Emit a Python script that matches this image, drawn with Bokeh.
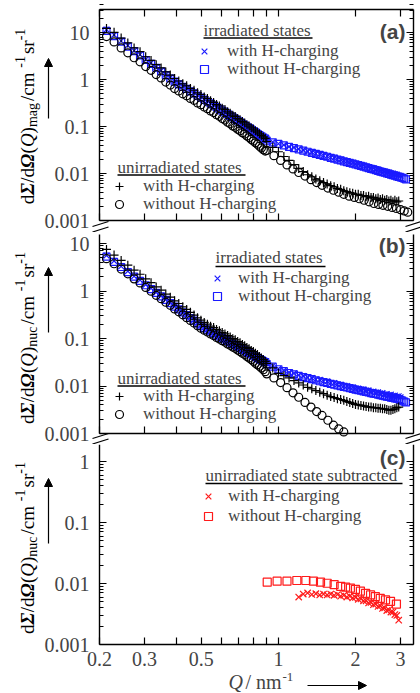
import math
from bokeh.plotting import figure
from bokeh.models import (LogAxis, FixedTicker, Label, Arrow, NormalHead, Legend,
                          LegendItem, Range1d)
from bokeh.layouts import column
from bokeh.embed import file_html
from bokeh.resources import INLINE

# ---------------- data ----------------
q_lo = [0.213, 0.228, 0.243, 0.258, 0.273, 0.288, 0.303, 0.318, 0.333, 0.348,
        0.363, 0.378, 0.393, 0.408, 0.423, 0.438, 0.453, 0.468, 0.483, 0.498,
        0.513, 0.528, 0.543, 0.558, 0.573, 0.588, 0.603, 0.618, 0.633, 0.648,
        0.663, 0.678, 0.693, 0.708, 0.723, 0.738, 0.753, 0.768, 0.783, 0.798,
        0.813, 0.828, 0.843, 0.858, 0.873, 0.888]
q_hi = [0.90, 0.95, 1.00, 1.05, 1.10, 1.15, 1.20, 1.25, 1.30, 1.35, 1.40, 1.45,
        1.50, 1.55, 1.60, 1.65, 1.70, 1.75, 1.80, 1.85, 1.90, 1.95, 2.00, 2.05,
        2.10, 2.15, 2.20, 2.25, 2.30, 2.35, 2.40, 2.45, 2.50, 2.55, 2.60, 2.65,
        2.70, 2.75, 2.80, 2.85, 2.90, 2.95, 3.00]
q_hi_sq = q_hi + [3.05, 3.10, 3.15]
q_hi_plus = q_hi[:-1]
q_hi_circ = [0.90, 0.96, 1.02, 1.08, 1.14, 1.20, 1.27, 1.34, 1.41, 1.48, 1.56,
             1.64, 1.72, 1.80, 1.89, 1.98, 2.07, 2.16, 2.26, 2.36, 2.46, 2.56,
             2.67, 2.78, 2.89, 3.00, 3.10, 3.20]

# panel (a): magnetic
a_irr_h = [11.5, 8.9, 6.6, 5.3, 4.1, 3.4, 2.68, 2.25, 1.82, 1.55, 1.27, 1.10, 0.92, 0.83,
           0.72, 0.655, 0.575, 0.525, 0.465, 0.428, 0.38, 0.353, 0.316, 0.293, 0.264,
           0.247, 0.222, 0.207, 0.186, 0.174, 0.158, 0.148, 0.135, 0.127, 0.116, 0.109,
           0.100, 0.094, 0.087, 0.082, 0.076, 0.072, 0.067, 0.063, 0.059, 0.056]
a_irr_h_hi = [0.051, 0.047, 0.043, 0.0405, 0.0372, 0.0358, 0.0331, 0.0318, 0.0295, 0.0285,
              0.0265, 0.0259, 0.0240, 0.0236, 0.0220, 0.0216, 0.0201, 0.0198, 0.0186, 0.0183,
              0.0171, 0.0170, 0.0160, 0.0158, 0.0149, 0.0148, 0.0139, 0.0138, 0.0131, 0.0129,
              0.0123, 0.0121, 0.0116, 0.0114, 0.0110, 0.0107, 0.0105, 0.0101, 0.0100, 0.0096,
              0.0095, 0.0091, 0.0090]
a_irr_n = [10.8, 8.4, 6.4, 5.0, 4.0, 3.25, 2.6, 2.15, 1.78, 1.48, 1.24, 1.05, 0.9, 0.79,
           0.70, 0.63, 0.56, 0.505, 0.455, 0.412, 0.372, 0.34, 0.31, 0.283, 0.259, 0.238,
           0.218, 0.2, 0.184, 0.169, 0.156, 0.144, 0.133, 0.123, 0.114, 0.106, 0.098, 0.092,
           0.086, 0.080, 0.075, 0.070, 0.066, 0.062, 0.058, 0.055]
a_irr_n_hi = [0.050, 0.046, 0.0425, 0.0395, 0.0368, 0.0345, 0.0325, 0.0307, 0.0290, 0.0275,
              0.0262, 0.0249, 0.0237, 0.0227, 0.0216, 0.0207, 0.0198, 0.0190, 0.0182, 0.0175,
              0.0168, 0.0162, 0.0156, 0.0150, 0.0145, 0.0140, 0.0135, 0.0130, 0.0126, 0.0122,
              0.0118, 0.0114, 0.0110, 0.0107, 0.0104, 0.0101, 0.0098, 0.0095, 0.0092, 0.0090,
              0.0087, 0.0085, 0.0083, 0.0081, 0.0078, 0.0075]
a_un_h = [12.2, 10.1, 7.6, 6.0, 4.7, 3.9, 3.05, 2.55, 2.07, 1.76, 1.45, 1.24, 1.05, 0.93,
          0.81, 0.735, 0.645, 0.59, 0.52, 0.48, 0.425, 0.393, 0.352, 0.326, 0.293, 0.273,
          0.246, 0.229, 0.206, 0.192, 0.174, 0.163, 0.148, 0.139, 0.127, 0.119, 0.109, 0.102,
          0.094, 0.088, 0.081, 0.076, 0.070, 0.065, 0.060, 0.056]
a_un_h_hi = [0.048, 0.036, 0.029, 0.023, 0.019, 0.0155, 0.0128, 0.011, 0.0094, 0.0085,
             0.0076, 0.0070, 0.0064, 0.0060, 0.0055, 0.0052, 0.0048, 0.0046, 0.0043, 0.0041,
             0.0039, 0.0038, 0.0036, 0.0036, 0.0034, 0.0034, 0.0032, 0.0033, 0.0031, 0.0031,
             0.0029, 0.0030, 0.0028, 0.0029, 0.0027, 0.0028, 0.0026, 0.0027, 0.0025, 0.0027,
             0.0025, 0.0026]
a_un_n = [8.2, 6.3, 4.7, 3.7, 2.9, 2.38, 1.88, 1.57, 1.27, 1.08, 0.88, 0.76, 0.64, 0.57,
          0.495, 0.45, 0.395, 0.36, 0.318, 0.292, 0.26, 0.24, 0.214, 0.198, 0.178, 0.165,
          0.148, 0.137, 0.123, 0.114, 0.103, 0.096, 0.087, 0.081, 0.074, 0.069, 0.063, 0.058,
          0.053, 0.049, 0.045, 0.042, 0.038, 0.035, 0.032, 0.030]
a_un_n_hi = [0.031, 0.024, 0.019, 0.0152, 0.0125, 0.0105, 0.0088, 0.0074, 0.0064, 0.0056,
             0.0049, 0.0044, 0.0040, 0.0036, 0.0033, 0.0031, 0.0029, 0.0027, 0.0025, 0.0023,
             0.0022, 0.0021, 0.0020, 0.0019, 0.0018, 0.0017, 0.0016, 0.0015]

# panel (b): nuclear
b_irr_h = [5.6, 4.3, 3.3, 2.62, 2.05, 1.70, 1.36, 1.14, 0.93, 0.79, 0.66, 0.57, 0.48, 0.42,
           0.36, 0.315, 0.273, 0.242, 0.211, 0.188, 0.170, 0.157, 0.143, 0.133, 0.121, 0.114,
           0.104, 0.098, 0.090, 0.085, 0.078, 0.074, 0.068, 0.065, 0.060, 0.057, 0.053, 0.051,
           0.047, 0.045, 0.042, 0.0405, 0.038, 0.0365, 0.034, 0.033]
b_irr_h_hi = [0.030, 0.0265, 0.0232, 0.0214, 0.0194, 0.0185, 0.0169, 0.0163, 0.0151, 0.0148,
              0.0137, 0.0135, 0.0126, 0.0125, 0.0116, 0.0116, 0.0108, 0.0107, 0.0100, 0.0100,
              0.0094, 0.0094, 0.0089, 0.0089, 0.0084, 0.0085, 0.0080, 0.0081, 0.0076, 0.0077,
              0.0073, 0.0074, 0.0070, 0.0071, 0.0067, 0.0068, 0.0065, 0.0066, 0.0062, 0.0063,
              0.0060, 0.0061, 0.0058]
b_irr_n = [5.3, 4.1, 3.2, 2.5, 2.0, 1.63, 1.32, 1.10, 0.91, 0.77, 0.65, 0.555, 0.47, 0.41,
           0.355, 0.31, 0.27, 0.238, 0.209, 0.186, 0.168, 0.154, 0.141, 0.130, 0.120, 0.111,
           0.103, 0.096, 0.089, 0.083, 0.077, 0.072, 0.067, 0.063, 0.059, 0.056, 0.052, 0.049,
           0.046, 0.044, 0.041, 0.039, 0.037, 0.035, 0.033, 0.032]
b_irr_n_hi = [0.029, 0.0255, 0.0225, 0.0205, 0.0188, 0.0175, 0.0163, 0.0154, 0.0146, 0.0139,
              0.0132, 0.0126, 0.0121, 0.0116, 0.0111, 0.0107, 0.0103, 0.0099, 0.0096, 0.0093,
              0.0090, 0.0087, 0.0084, 0.0082, 0.0080, 0.0077, 0.0075, 0.0073, 0.0071, 0.0069,
              0.0068, 0.0066, 0.0064, 0.0063, 0.0061, 0.0060, 0.0059, 0.0057, 0.0056, 0.0055,
              0.0054, 0.0053, 0.0051, 0.0049, 0.0047, 0.0045]
b_un_h = [7.5, 5.7, 4.4, 3.5, 2.75, 2.25, 1.80, 1.50, 1.22, 1.04, 0.86, 0.74, 0.62, 0.545,
          0.465, 0.41, 0.355, 0.312, 0.272, 0.243, 0.218, 0.200, 0.182, 0.170, 0.155, 0.145,
          0.133, 0.125, 0.115, 0.108, 0.099, 0.094, 0.086, 0.081, 0.075, 0.070, 0.065, 0.061,
          0.056, 0.053, 0.049, 0.046, 0.042, 0.039, 0.036, 0.033]
b_un_h_hi = [0.030, 0.024, 0.0185, 0.0165, 0.0148, 0.0130, 0.0116, 0.0105, 0.0094, 0.0087,
             0.0080, 0.0074, 0.0069, 0.0064, 0.0060, 0.0057, 0.0054, 0.0052, 0.0050, 0.0047,
             0.0045, 0.0043, 0.0041, 0.0040, 0.0039, 0.0038, 0.0037, 0.0036, 0.0036, 0.0035,
             0.0035, 0.0034, 0.0034, 0.0033, 0.0033, 0.0032, 0.0031, 0.0031, 0.0032, 0.0033,
             0.0035, 0.0036]
b_un_n = [4.8, 3.75, 2.9, 2.3, 1.8, 1.48, 1.19, 0.99, 0.81, 0.69, 0.58, 0.50, 0.42, 0.365,
          0.315, 0.275, 0.24, 0.212, 0.185, 0.165, 0.150, 0.137, 0.125, 0.115, 0.105, 0.098,
          0.090, 0.084, 0.077, 0.072, 0.066, 0.062, 0.057, 0.053, 0.049, 0.046, 0.042, 0.039,
          0.036, 0.033, 0.030, 0.028, 0.026, 0.024, 0.022, 0.020]
b_un_n_hi = [0.018, 0.0148, 0.0118, 0.0092, 0.0072, 0.0058, 0.0045, 0.0036, 0.0029, 0.0024,
             0.0019, 0.0015, 0.00125, 0.00108]

# panel (c): irradiated minus unirradiated (nuclear)
c_n_q = [0.904, 0.988, 1.08, 1.18, 1.28, 1.37, 1.46, 1.55, 1.65, 1.75, 1.83, 1.91, 2.00,
         2.09, 2.19, 2.29, 2.39, 2.50, 2.62, 2.74, 2.89]
c_n_v = [0.0105, 0.0109, 0.0109, 0.0112, 0.0112, 0.0109, 0.0105, 0.0101, 0.0096, 0.0090,
         0.0087, 0.0084, 0.0080, 0.0075, 0.0069, 0.0065, 0.0061, 0.0057, 0.0054, 0.0051, 0.0046]
c_h_q = [1.20, 1.25, 1.30, 1.35, 1.40, 1.45, 1.50, 1.55, 1.60, 1.65, 1.70, 1.75, 1.80, 1.85,
         1.90, 1.95, 2.00, 2.05, 2.10, 2.15, 2.20, 2.25, 2.30, 2.35, 2.40, 2.45, 2.50, 2.55,
         2.60, 2.65, 2.70, 2.75, 2.80, 2.85, 2.90, 2.95]
c_h_v = [0.0060, 0.0067, 0.0070, 0.0066, 0.0068, 0.0065, 0.0067, 0.0065, 0.0067, 0.0064,
         0.0066, 0.0062, 0.0064, 0.0060, 0.0062, 0.0058, 0.0059, 0.0055, 0.0056, 0.0052,
         0.0052, 0.0048, 0.0049, 0.0045, 0.0046, 0.0042, 0.0043, 0.0039, 0.0040, 0.0036,
         0.0037, 0.0034, 0.0034, 0.0031, 0.0030, 0.0025]

x_ticks = [0.2, 0.3, 0.4, 0.5, 0.6, 0.7, 0.8, 0.9, 1, 2, 3]
x_tick_labels = {0.2: "0.2", 0.3: "0.3", 0.4: "", 0.5: "0.5", 0.6: "", 0.7: "", 0.8: "",
                 0.9: "", 1: "1", 2: "2", 3: "3"}
y_ticks = [0.001, 0.01, 0.1, 1, 10]
y_tick_labels = {0.001: "0.001", 0.01: "0.01", 0.1: "0.1", 1: "1", 10: "10"}
Q_MIN, Q_MAX = 0.2, 3.37

# ---------------- styling ----------------
SERIF = "Liberation Serif"
SANS = "Liberation Sans"
BLUE = "#1a1aff"
RED = "#ff1a1a"
FW = 420
X0 = 99            # canvas x of Q = 0.2
PX_DEC_X = 256     # pixels per decade along Q
YT_X = 26.5        # centre line of the rotated y title
y_minor = [k * 10.0 ** e for e in range(-3, 2) for k in range(2, 10)]

W = {"d": 0.5, "Σ": 0.64, "/": 0.278, "Ω": 0.76, "(": 0.333, "Q": 0.722, ")": 0.333,
     "m": 0.778, "a": 0.444, "g": 0.5, "n": 0.5, "u": 0.5, "c": 0.444, " ": 0.25,
     "-": 0.333, "1": 0.5, "s": 0.389, "r": 0.333}


def tw(s, fs):
    return sum(W.get(ch, 0.5) for ch in s) * fs


def style_axis(ax, ticker, loc, bounds, overrides, fs="0px", standoff=0):
    ax.ticker = ticker
    ax.fixed_location = loc
    ax.bounds = bounds
    ax.axis_line_width = 1.4
    ax.major_tick_in = 7
    ax.major_tick_out = 0
    ax.minor_tick_in = 4
    ax.minor_tick_out = 0
    ax.major_tick_line_width = 1.2
    ax.minor_tick_line_width = 1
    ax.major_label_text_font = SERIF
    ax.major_label_text_font_size = fs
    ax.major_label_standoff = standoff
    ax.major_label_overrides = overrides
    ax.axis_label = None


def make_panel(height, y_axis_px, px_dec, y_top_px, xlabels, top_axis=False):
    """height: canvas height; y_axis_px: canvas y (from top) of value 0.001;
    px_dec: pixels per decade; y_top_px: canvas y of the panel's upper end."""
    x_lo = Q_MIN * 10 ** (-X0 / PX_DEC_X)
    x_hi = Q_MIN * 10 ** ((FW - X0) / PX_DEC_X)
    y_lo = 10 ** (-3 - (height - y_axis_px) / px_dec)
    y_hi = 10 ** (-3 + y_axis_px / px_dec)
    y_top = 10 ** (-3 + (y_axis_px - y_top_px) / px_dec)
    p = figure(width=FW, height=height, x_axis_type="log", y_axis_type="log",
               x_range=Range1d(x_lo, x_hi), y_range=Range1d(y_lo, y_hi),
               output_backend="svg", toolbar_location=None, min_border=0)
    p.outline_line_color = None
    p.xgrid.visible = False
    p.ygrid.visible = False
    xt = FixedTicker(ticks=x_ticks)
    yt = FixedTicker(ticks=y_ticks, minor_ticks=y_minor)
    blank_x = {k: "" for k in x_tick_labels}
    blank_y = {k: "" for k in y_tick_labels}
    if xlabels:
        style_axis(p.xaxis[0], xt, 0.001, (Q_MIN, Q_MAX), x_tick_labels, "20px", 7)
    else:
        style_axis(p.xaxis[0], xt, 0.001, (Q_MIN, Q_MAX), blank_x)
    style_axis(p.yaxis[0], yt, Q_MIN, (0.001, y_top), y_tick_labels, "20px", 10)
    ra = LogAxis()
    style_axis(ra, yt, Q_MAX, (0.001, y_top), blank_y)
    p.add_layout(ra, "right")
    if top_axis:
        ta = LogAxis()
        style_axis(ta, FixedTicker(ticks=x_ticks), y_top, (Q_MIN, Q_MAX), blank_x)
        p.add_layout(ta, "above")
    return p


def S(v):
    return dict(x_units="screen", y_units="screen", **v)


def add_ytitle(p, H, sub, center, a0, a1):
    # (text, style, font px, offset of the text centre line, gap after)
    pieces = [("d", "normal", 19, 0, 0), ("Σ", "bold italic", 19, 0, 0),
              ("/d", "normal", 19, 0, 0), ("Ω", "bold italic", 19, 0, 0),
              ("(", "normal", 19, 0, 0), ("Q", "italic", 19, 0, 0),
              (")", "normal", 19, 0, 0), (sub, "normal", 14, 5.5, 2),
              (" /cm", "normal", 19, 0, 0), ("-1", "normal", 14, -7, 2),
              ("sr", "normal", 19, 0, 0), ("-1", "normal", 14, -7, 0)]
    total = sum(tw(t, fs) + gap for t, _, fs, _, gap in pieces)
    pos = (H - center) - total / 2
    for t, style, fs, dx, gap in pieces:
        p.add_layout(Label(**S(dict(x=YT_X + dx, y=pos)), text=t, angle=math.pi / 2,
                           text_font=SERIF, text_font_style=style,
                           text_font_size=f"{fs}px", text_align="left",
                           text_baseline="middle", text_color="black"))
        pos += tw(t, fs) + gap
    p.add_layout(Arrow(x_start=48, y_start=H - a0, x_end=48, y_end=H - a1,
                       start_units="screen", end_units="screen", line_width=1.2,
                       end=NormalHead(size=8, fill_color="black", line_color="black",
                                      line_width=1)))


def add_breaks(p):
    # slanted double strokes at the bottom of a panel, across left and right axes
    for xc in (X0 + 1, FW - 7):
        for dy in (0, 5.5):
            p.add_layout(Arrow(x_start=xc - 8, y_start=0.5 + dy, x_end=xc + 8,
                               y_end=5.5 + dy, start_units="screen", end_units="screen",
                               start=None, end=None, line_width=1.2, line_color="black"))


def add_panel_tag(p, H, tag, y):
    p.add_layout(Label(**S(dict(x=405, y=H - y)), text=tag, text_align="right",
                       text_baseline="middle", text_font=SANS, text_font_style="bold",
                       text_font_size="21px"))


def add_legend(p, H, title, title_x, title_y, ul_x1, ul_y, renderers, labels,
               glyph_cx, text_x, rows_y):
    # all positions are canvas pixels measured from the panel's top-left corner
    p.add_layout(Label(**S(dict(x=title_x, y=H - title_y)), text=title, text_font=SERIF,
                       text_font_size="17px", text_baseline="middle"))
    p.add_layout(Arrow(x_start=title_x, y_start=H - ul_y, x_end=ul_x1, y_end=H - ul_y,
                       start_units="screen", end_units="screen", start=None, end=None,
                       line_width=1.6, line_color="black"))
    for r, lab, ry in zip(renderers, labels, rows_y):
        leg = Legend(items=[LegendItem(label=lab, renderers=[r])],
                     location=(glyph_cx - 14, H - ry - 12),
                     label_text_font=SERIF, label_text_font_size="17px",
                     glyph_width=20, glyph_height=22, label_height=22,
                     label_standoff=text_x - glyph_cx - 10, spacing=0, padding=0,
                     margin=0, border_line_alpha=0, background_fill_alpha=0)
        p.add_layout(leg)


def sc(p, x, y, marker, color, size, lw=1.2):
    return p.scatter(x, y, marker=marker, size=size, line_color=color, line_alpha=1.0,
                     fill_color=None, line_width=lw)


LABS = ["with H-charging", "without H-charging"]

# ---------------- panel (a): canvas y 0..232 ----------------
HA = 232
pa = make_panel(HA, 220, 47, 9, False, top_axis=True)
r_a1 = sc(pa, q_lo + q_hi, a_irr_h + a_irr_h_hi, "x", BLUE, 8)
r_a2 = sc(pa, q_lo + q_hi_sq, a_irr_n + a_irr_n_hi, "square", BLUE, 7)
r_a3 = sc(pa, q_lo + q_hi_plus, a_un_h + a_un_h_hi, "cross", "black", 9)
r_a4 = sc(pa, q_lo + q_hi_circ, a_un_n + a_un_n_hi, "circle", "black", 8)
add_legend(pa, HA, "irradiated states", 203, 30, 312, 37.5, [r_a1, r_a2], LABS,
           208, 231, [50, 68])
add_legend(pa, HA, "unirradiated states", 117, 167, 245, 174.5, [r_a3, r_a4], LABS,
           123, 147, [185, 203])
add_panel_tag(pa, HA, "(a)", 31)
add_ytitle(pa, HA, "mag", 116, 118, 58)
add_breaks(pa)

# ---------------- panel (b): canvas y 232..444 ----------------
HB = 212
pb = make_panel(HB, 201, 47.5, 2, False)
r_b1 = sc(pb, q_lo + q_hi, b_irr_h + b_irr_h_hi, "x", BLUE, 8)
r_b2 = sc(pb, q_lo + q_hi_sq, b_irr_n + b_irr_n_hi, "square", BLUE, 7)
r_b3 = sc(pb, q_lo + q_hi_plus, b_un_h + b_un_h_hi, "cross", "black", 9)
r_b4 = sc(pb, q_lo + q_hi_circ[:14], b_un_n + b_un_n_hi, "circle", "black", 8)
add_legend(pb, HB, "irradiated states", 215, 25, 325, 34, [r_b1, r_b2], LABS,
           221, 242, [45, 63])
add_legend(pb, HB, "unirradiated states", 117, 146, 245, 153.5, [r_b3, r_b4], LABS,
           123, 147, [163, 181])
add_panel_tag(pb, HB, "(b)", 12.5)
add_ytitle(pb, HB, "nuc", 105.5, 100, 35)
add_breaks(pb)

# ---------------- panel (c): canvas y 444..693 ----------------
HC = 249
pc = make_panel(HC, 200, 61, 0, True)
r_c1 = sc(pc, c_h_q, c_h_v, "x", RED, 9)
r_c2 = sc(pc, c_n_q, c_n_v, "square", RED, 8)
add_legend(pc, HC, "unirradiated state subtracted", 205, 31, 402, 39, [r_c1, r_c2],
           LABS, 212, 232, [51, 71])
add_panel_tag(pc, HC, "(c)", 12.5)
add_ytitle(pc, HC, "nuc", 103.5, 99, 34)

# x axis title with arrow
pc.add_layout(Label(**S(dict(x=228, y=12)), text="Q", text_font=SERIF,
                    text_font_style="italic", text_font_size="20px",
                    text_baseline="middle"))
pc.add_layout(Label(**S(dict(x=245, y=12)), text="/ nm", text_font=SERIF,
                    text_font_size="20px", text_baseline="middle"))
pc.add_layout(Label(**S(dict(x=282, y=17)), text="-1", text_font=SERIF,
                    text_font_size="13px", text_baseline="middle"))
pc.add_layout(Arrow(x_start=307, y_start=8, x_end=366, y_end=8, start_units="screen",
                    end_units="screen", line_width=1.2,
                    end=NormalHead(size=8, fill_color="black", line_color="black",
                                   line_width=1)))

layout = column(pa, pb, pc)
open("out.html", "w").write(file_html(layout, INLINE))
